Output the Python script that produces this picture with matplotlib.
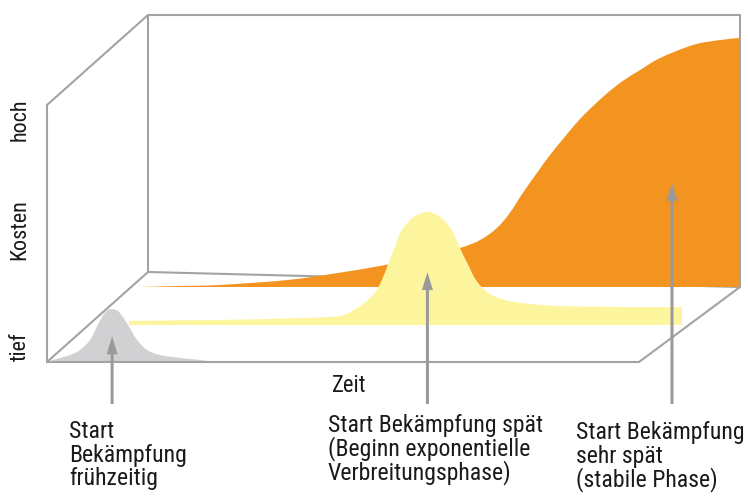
import matplotlib
matplotlib.use("Agg")
import matplotlib.pyplot as plt
from matplotlib import font_manager as fm
from matplotlib.path import Path
from matplotlib.patches import PathPatch
import numpy as np

# ---------------- data ----------------
y_axis_labels = ["tief", "Kosten", "hoch"]
x_axis_label = "Zeit"

# grey: early start (time, cost in % of box height)
grey_t = [0.0, 2.2, 3.9, 5.6, 7.3, 8.4, 9.5, 10.3, 11.0, 11.7, 12.3, 13.7,
          15.2, 16.9, 19.1, 22.5, 25.8, 28.4]
grey_c = [0.0, 1.6, 2.7, 4.7, 8.6, 13.6, 18.3, 20.2, 20.6, 20.2, 19.1, 14.4,
          8.6, 4.7, 2.7, 1.6, 0.8, 0.0]

# yellow: late start (beginning of exponential phase)
yellow_t = [6.6, 15.2, 25.3, 35.5, 42.2, 44.8, 46.5, 48.1, 49.3, 50.3, 51.4,
            52.5, 54.2, 55.6, 56.9, 58.3, 59.6, 61.3, 62.5, 63.9, 65.2, 67.1,
            70.1, 74.3, 79.4, 89.5, 100.0]
yellow_c = [1.6, 1.8, 2.1, 2.7, 3.5, 6.2, 8.9, 12.5, 17.5, 23.3, 29.9,
            36.2, 41.2, 43.2, 44.0, 43.2, 41.2, 36.2, 29.9, 23.3, 17.5, 12.8,
            9.7, 8.2, 7.4, 7.0, 7.0]

# orange: very late start (stable phase)
orange_t = [0.0, 7.1, 13.9, 25.2, 33.6, 40.9, 47.6, 54.4, 57.8, 60.6, 62.8,
            65.0, 67.4, 69.6, 71.8, 74.2, 76.4, 79.2, 81.9, 84.8, 88.2, 93.8,
            98.3, 101.7]
orange_c = [0.0, 0.4, 0.8, 2.7, 5.4, 8.2, 11.3, 15.2, 18.3, 22.9, 28.8,
            36.6, 44.4, 51.4, 57.6, 64.2, 69.4, 75.3, 80.2, 84.4, 89.1, 94.2,
            96.1, 96.9]

arrow_t = [11.0, 57.0, 90.2]
arrow_c = [10.0, 20.6, 40.5]
annotations = [
    ["Start", "Bekämpfung", "frühzeitig"],
    ["Start Bekämpfung spät", "(Beginn exponentielle", "Verbreitungsphase)"],
    ["Start Bekämpfung", "sehr spät", "(stabile Phase)"],
]

# ---------------- layout / style ----------------
W, H = 748, 496
X0, Y0 = 47, 362          # front-left-bottom corner (px)
SX, SY = 5.92, 2.57       # px per time unit / per cost unit
DX, DY = 101, 90          # depth offset of the back face

frame_col = "#A3A3A3"
arrow_col = "#9A9A9A"
text_col = "#1A1A1A"
colors = {"grey": "#D1D1D3", "yellow": "#FDF59E", "orange": "#F39420"}
# lane: (x offset px, baseline px)
lanes = {"grey": (0, 362), "yellow": (43, 325), "orange": (91, 287)}


# ---- pick a condensed font if one is installed ----
def find(fam, stretch="normal", need=None):
    try:
        p = fm.findfont(fm.FontProperties(family=fam, stretch=stretch),
                        fallback_to_default=False)
    except Exception:
        return None
    if need and need.lower() not in p.lower():
        return None
    return p


font_path = None
for fam, st, need in [("Liberation Sans Narrow", "normal", "narrow"),
                      ("Roboto Condensed", "normal", "condensed"),
                      ("Open Sans Condensed", "normal", "condensed"),
                      ("Noto Sans", "condensed", "condensed"),
                      ("Open Sans", "condensed", "condensed"),
                      ("DejaVu Sans", "condensed", "condensed"),
                      ("Roboto", "condensed", "condensed"),
                      ("Roboto", "normal", None),
                      ("Liberation Sans", "normal", None)]:
    font_path = find(fam, st, need)
    if font_path:
        break


def fprop(size):
    if font_path:
        return fm.FontProperties(fname=font_path, size=size)
    return fm.FontProperties(size=size)


def proj(t, c, d):
    x = X0 + SX * t + DX * d
    y = Y0 - SY * c - DY * d + 0.15 * t * d * (1 - c / 100.0)
    return x, y


def lane_xy(name, t, c):
    xo, base = lanes[name]
    t = np.asarray(t, float)
    c = np.asarray(c, float)
    return X0 + xo + SX * t, base - SY * c, base


def smooth_area(xs, ys, base):
    pts = np.column_stack([xs, ys])
    n = len(pts)
    verts = [(xs[0], base), tuple(pts[0])]
    codes = [Path.MOVETO, Path.LINETO]
    for i in range(n - 1):
        p0 = pts[i - 1] if i > 0 else pts[i]
        p1, p2 = pts[i], pts[i + 1]
        p3 = pts[i + 2] if i + 2 < n else pts[i + 1]
        c1 = p1 + (p2 - p0) / 6.0
        c2 = p2 - (p3 - p1) / 6.0
        verts += [tuple(c1), tuple(c2), tuple(p2)]
        codes += [Path.CURVE4] * 3
    verts += [(xs[-1], base), (xs[0], base)]
    codes += [Path.LINETO, Path.CLOSEPOLY]
    return Path(verts, codes)


fig = plt.figure(figsize=(W / 100, H / 100), dpi=100)
ax = fig.add_axes([0, 0, 1, 1])
ax.set_xlim(0, W)
ax.set_ylim(H, 0)
ax.axis("off")

lw = 1.5


def seg(a, b, z):
    p, q = proj(*a), proj(*b)
    ax.plot([p[0], q[0]], [p[1], q[1]], color=frame_col, lw=lw,
            solid_capstyle="round", zorder=z)


# back bottom edge (hidden by orange)
seg((0, 0, 1), (100, 0, 1), 1)

# filled series
for name, t, c in [("orange", orange_t, orange_c),
                   ("yellow", yellow_t, yellow_c),
                   ("grey", grey_t, grey_c)]:
    xs, ys, base = lane_xy(name, t, c)
    ax.add_patch(PathPatch(smooth_area(xs, ys, base), facecolor=colors[name],
                           lw=0, zorder=2))

# remaining frame edges
for a, b in [((0, 0, 0), (0, 100, 0)), ((0, 100, 0), (0, 100, 1)),
             ((0, 100, 1), (100, 100, 1)), ((100, 100, 1), (100, 0, 1)),
             ((0, 100, 1), (0, 0, 1)), ((0, 0, 0), (0, 0, 1)),
             ((0, 0, 0), (100, 0, 0)), ((100, 0, 0), (100, 0, 1))]:
    seg(a, b, 3)

# arrows
for name, t, c in zip(["grey", "yellow", "orange"], arrow_t, arrow_c):
    xs, ys, base = lane_xy(name, [t], [c])
    x, ytip = xs[0], ys[0]
    ytail = 404
    ax.arrow(x, ytail, 0, ytip - ytail, width=3, head_width=11,
             head_length=18, length_includes_head=True, color=arrow_col,
             lw=0, zorder=4)

# ---- font sizes fitted to the reference text widths ----
renderer = fig.canvas.get_renderer()


def fit_size(samples, targets, start=18.0):
    tot = 0.0
    for s in samples:
        t = fig.text(0, 0, s, fontproperties=fprop(start))
        tot += t.get_window_extent(renderer).width
        t.remove()
    return start * sum(targets) / tot


ann_size = min(20.0, fit_size(["Start Bekämpfung spät", "(Beginn exponentielle",
                                "Verbreitungsphase)", "Start Bekämpfung",
                                "(stabile Phase)"],
                               [212, 211, 190, 165, 141]))
# keep the widest right-hand line inside the figure
t_chk = fig.text(0, 0, "Start Bekämpfung", fontproperties=fprop(ann_size))
wchk = t_chk.get_window_extent(renderer).width
t_chk.remove()
if 576 + wchk > W - 3:
    ann_size *= (W - 3 - 576) / wchk
lab_size = min(18.0, fit_size(["Kosten", "hoch"], [60, 44]))
zeit_size = min(18.0, fit_size(["Zeit"], [34]))

# axis texts
for lab, yc in zip(y_axis_labels, [347, 230, 120]):
    ax.text(20, yc, lab, rotation=90, ha="center", va="center",
            fontproperties=fprop(lab_size), color=text_col)
ax.text(332, 392, x_axis_label, ha="left", va="baseline",
        fontproperties=fprop(zeit_size), color=text_col)

# annotation texts
ann_x = [69, 328, 576]
ann_y = [438, 432, 439]
for lines, x, y in zip(annotations, ann_x, ann_y):
    for i, line in enumerate(lines):
        ax.text(x, y + 23.6 * i, line, ha="left", va="baseline",
                fontproperties=fprop(ann_size), color=text_col)

fig.savefig("out.png", dpi=100)
